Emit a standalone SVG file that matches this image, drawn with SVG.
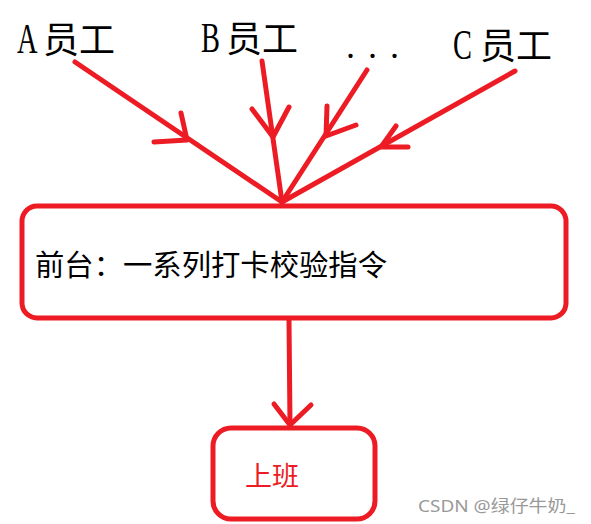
<svg xmlns="http://www.w3.org/2000/svg" width="591" height="524" viewBox="0 0 591 524">
<style>
.ln{fill:none;stroke:#ed1c24;stroke-width:5;stroke-linecap:round;stroke-linejoin:round}
.box{fill:#fff;stroke:#ed1c24;stroke-width:5}
.t{font-family:"Liberation Serif","Noto Sans CJK SC",serif;fill:#000}
.c{font-family:"Noto Sans CJK SC",serif;fill:#000;font-size:36px}
.l{font-family:"Liberation Serif",serif;fill:#000;font-size:43px}
</style>
<rect width="591" height="524" fill="#fff"/>
<g id="nodeA"><text class="l" transform="translate(17,53) scale(0.66,1)">A</text><text class="c" x="43" y="53">员工</text></g>
<g id="nodeB"><text class="l" transform="translate(201,52) scale(0.66,1)">B</text><text class="c" x="226" y="52">员工</text></g>
<g id="nodeDots"><text class="t" x="346" y="58" font-size="36" letter-spacing="13">...</text></g>
<g id="nodeC"><text class="l" transform="translate(453,59) scale(0.66,1)">C</text><text class="c" x="480" y="59">员工</text></g>
<g id="connectors">
<path class="ln" d="M75,62 L282,202"/>
<path class="ln" d="M181,113 L187,140 L154,142"/>
<path class="ln" d="M262,61 L282,202"/>
<path class="ln" d="M252,109 L273,137 L289,107"/>
<path class="ln" d="M367,70 L282,202"/>
<path class="ln" d="M327,106 L326,136 L356,125"/>
<path class="ln" d="M515,71 L282,202"/>
<path class="ln" d="M396,126 L381,147 L408,147"/>
<path class="ln" d="M289,320 L290,425"/>
<path class="ln" d="M274,404 L290,425 L311,405"/>
</g>
<g id="front"><rect class="box" x="22" y="206" width="544" height="112" rx="15"/>
<text class="t" x="35" y="276" font-size="29" textLength="352" lengthAdjust="spacingAndGlyphs">前台：一系列打卡校验指令</text></g>
<g id="work"><rect class="box" x="213" y="428" width="162" height="91" rx="18"/>
<text class="t" x="245" y="486" font-size="27" style="fill:#ed1c24">上班</text></g>
<text x="418" y="512" font-family="'Noto Sans','Noto Sans CJK SC',sans-serif" font-size="16.5" fill="#999" textLength="157" lengthAdjust="spacingAndGlyphs">CSDN @绿仔牛奶_</text>
</svg>
